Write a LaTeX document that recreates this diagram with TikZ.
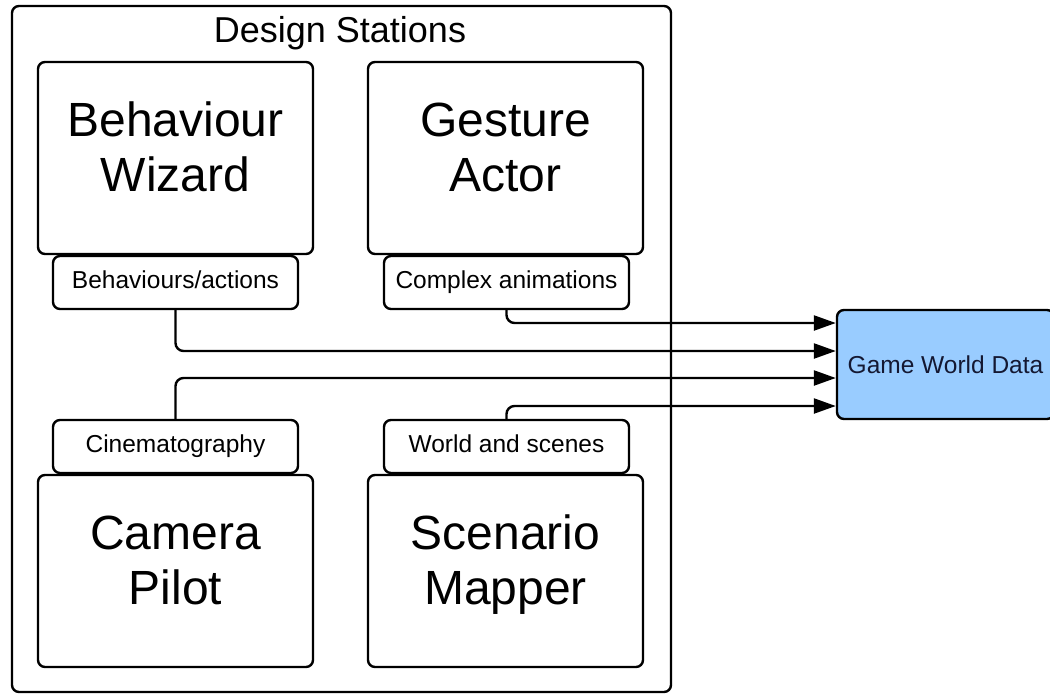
\documentclass[tikz,border=0pt]{standalone}
\usepackage{fontspec}
\setmainfont{Liberation Sans}
\usetikzlibrary{arrows.meta,calc}

\definecolor{datablue}{RGB}{153,204,255}
\definecolor{datatext}{RGB}{20,24,50}

\tikzset{
  frame/.style={draw=black, line width=2.4pt, rounded corners=7pt, inner sep=0pt},
  station/.style={frame, minimum width=275pt, minimum height=192pt},
  tabbox/.style={frame, minimum width=245pt, minimum height=53pt,
    text height=17.5pt, text depth=5.5pt,
    font=\fontsize{24.5}{28}\selectfont},
  bigtext/.style={align=center, text depth=0pt, inner sep=0pt,
    font=\fontsize{48}{55}\selectfont},
  conn/.style={draw=black, line width=2.4pt, rounded corners=8pt,
    -{Triangle[length=22pt,width=15pt]}},
}

\begin{document}
\begin{tikzpicture}[x=1pt, y=-1pt]
\useasboundingbox (0,0) rectangle (1050,694);

% container for all design stations
\node[frame, minimum width=659pt, minimum height=686pt] (ds) at (341.5,349) {};
\node[font=\fontsize{36}{40}\selectfont, anchor=base] (dstitle) at (340,42) {Design Stations};

% station boxes
\node[station] (bw) at (175.5,158) {};
\node[station] (ga) at (505.5,158) {};
\node[station] (cp) at (175.5,571) {};
\node[station] (sm) at (505.5,571) {};

\node[bigtext] (bwt) at ($(bw.north)+(0,86)$) {Behaviour\\Wizard};
\node[bigtext] (gat) at ($(ga.north)+(0,86)$) {Gesture\\Actor};
\node[bigtext] (cpt) at ($(cp.north)+(0,86)$) {Camera\\Pilot};
\node[bigtext] (smt) at ($(sm.north)+(0,86)$) {Scenario\\Mapper};

% output tabs
\node[tabbox] (ba) at (175.5,282.5) {Behaviours/actions};
\node[tabbox] (ca) at (506.5,282.5) {Complex animations};
\node[tabbox] (ci) at (175.5,446.5) {Cinematography};
\node[tabbox] (ws) at (506.5,446.5) {World and scenes};

% shared data store
\node[frame, fill=datablue, minimum width=217pt, minimum height=109pt,
  font=\fontsize{24.5}{28}\selectfont, text=datatext] (gwd) at (945.5,364.5) {Game World Data};

% data flows into the store
\draw[conn] (ca.south) |- ($(gwd.west)+(0,-41.5)$);
\draw[conn] (ba.south) |- ($(gwd.west)+(0,-13.5)$);
\draw[conn] (ci.north) |- ($(gwd.west)+(0,13.5)$);
\draw[conn] (ws.north) |- ($(gwd.west)+(0,41.5)$);
\end{tikzpicture}
\end{document}
